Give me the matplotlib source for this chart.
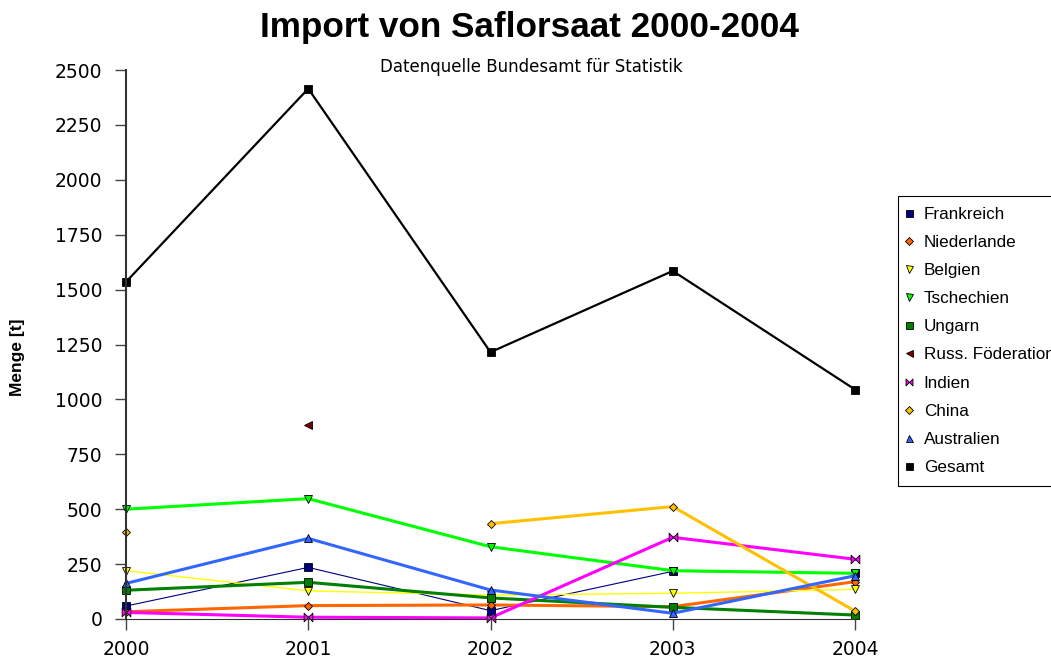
import matplotlib
matplotlib.use("Agg")
import matplotlib.pyplot as plt
import numpy as np
from matplotlib.path import Path

years = [2000, 2001, 2002, 2003, 2004]

frankreich = [59, 235, 38, 217, 210]
niederlande = [33, 61, 64, 56, 170]
belgien = [220, 128, 109, 117, 135]
tschechien = [500, 548, 329, 220, 208]
ungarn = [131, 167, 96, 53, 18]
russland = [np.nan, 885, np.nan, np.nan, np.nan]
indien = [30, 8, 5, 372, 272]
china = [396, np.nan, 434, 512, 36]
australien = [162, 367, 132, 26, 197]
gesamt = [1535, 2415, 1215, 1585, 1045]

# bowtie marker for Indien
bowtie = Path([(-1, -1), (1, 1), (1, -1), (-1, 1), (-1, -1)],
              [Path.MOVETO, Path.LINETO, Path.LINETO, Path.LINETO, Path.CLOSEPOLY])

series = [
    ("Frankreich", frankreich, "#000080", "s", 0.8),
    ("Niederlande", niederlande, "#ff6600", "D", 2.2),
    ("Belgien", belgien, "#ffff00", "v", 1.0),
    ("Tschechien", tschechien, "#00ff00", "v", 2.2),
    ("Ungarn", ungarn, "#008000", "s", 2.2),
    ("Russ. Föderation", russland, "#800000", "<", 2.2),
    ("Indien", indien, "#ff00ff", bowtie, 2.2),
    ("China", china, "#ffc000", "D", 2.2),
    ("Australien", australien, "#3366ff", "^", 2.2),
    ("Gesamt", gesamt, "#000000", "s", 1.6),
]

fig = plt.figure(figsize=(10.51, 6.62), dpi=100)
ax = fig.add_axes([126 / 1051, 1 - 619 / 662, (855 - 126) / 1051, (619 - 70) / 662])

for name, vals, col, mk, lw in series:
    ms = 6.3
    if mk == "D":
        ms = 4.5
    ax.plot(years, vals, color=col, lw=lw, marker=mk, markersize=ms,
            markerfacecolor=col, markeredgecolor="black", markeredgewidth=0.6,
            clip_on=False, label=name)

ax.set_xlim(2000, 2004)
ax.set_ylim(0, 2500)
ax.set_xticks(years)
ax.set_yticks(np.arange(0, 2501, 250))
ax.tick_params(labelsize=13.5, length=8, width=1, color="#444444")
ax.tick_params(axis="y", pad=9)
ax.tick_params(axis="x", length=8, pad=7)
for s in ["top", "right"]:
    ax.spines[s].set_visible(False)
ax.spines["left"].set_color("#333333")
ax.spines["left"].set_linewidth(1.5)
ax.spines["bottom"].set_color("#333333")

fig.text(0.504, 1 - 28 / 662, "Import von Saflorsaat 2000-2004", ha="center", va="center",
         fontsize=25.3, fontweight="bold", family="Liberation Sans")
fig.text(0.506, 1 - 67 / 662, "Datenquelle Bundesamt für Statistik", ha="center", va="center",
         fontsize=12)
fig.text(18 / 1051, 1 - 357 / 662, "Menge [t]", rotation=90, ha="center", va="center",
         fontsize=12.5, fontweight="bold", family="Liberation Sans")

leg = fig.legend(loc="upper left", bbox_to_anchor=(898 / 1051, 1 - 196 / 662),
                 frameon=True, fancybox=False, edgecolor="black", framealpha=1,
                 prop={"family": "Liberation Sans", "size": 12.3},
                 labelspacing=0.77, handlelength=0.05, handletextpad=0.84,
                 borderpad=0.62, borderaxespad=0, markerscale=0.8)
leg.get_frame().set_linewidth(0.8)
for h in leg.legend_handles:
    h.set_linestyle("none")

fig.savefig("out.png", dpi=100)
